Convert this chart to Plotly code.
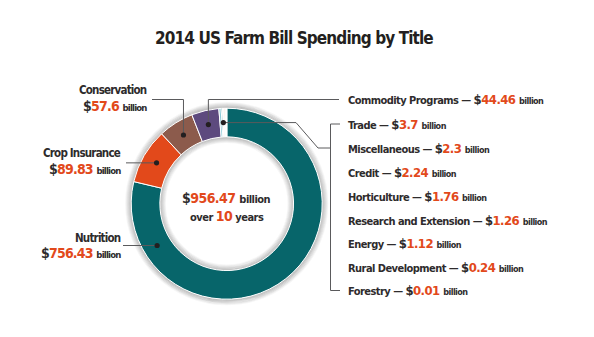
import math
import plotly.graph_objects as go

# ---------------- data ----------------
titles = ["Nutrition", "Crop Insurance", "Conservation", "Commodity Programs",
          "Trade", "Miscellaneous", "Credit", "Horticulture",
          "Research and Extension", "Energy", "Rural Development", "Forestry"]
spending = [756.43, 89.83, 57.6, 44.46, 3.7, 2.3, 2.24, 1.76, 1.26, 1.12, 0.24, 0.01]
total_spending = 956.47
years = 10
chart_title = "2014 US Farm Bill Spending by Title"

slice_colors = ["#07656a", "#e2491b", "#8c5b4c", "#5d4a7e", "#8ccbd8", "#3a8f98",
                "#fbf7f2", "#f3c4aa", "#f7e6da", "#efe9e0", "#d9e7e4", "#ffffff"]

# ---------------- layout constants ----------------
W, H = 594, 337
CX, CY, R = 226.7, 203.7, 95.5
HOLE = 0.70
RIN = R * HOLE
FONT = "DejaVu Sans Condensed, sans-serif"
DARK = "#2e2b2c"
ORANGE = "#e2491b"
LINE = "#5a5a5c"

fig = go.Figure()

fig.add_trace(go.Scatter(x=[0, W], y=[0, H], mode="markers",
                         marker=dict(opacity=0), hoverinfo="skip", showlegend=False))

fig.add_trace(go.Pie(
    labels=titles, values=spending, sort=False, direction="clockwise", rotation=0,
    hole=HOLE, textinfo="none", hoverinfo="label+value",
    marker=dict(colors=slice_colors, line=dict(color="white", width=1)),
    domain=dict(x=[(CX - R) / W, (CX + R) / W], y=[1 - (CY + R) / H, 1 - (CY - R) / H]),
    showlegend=False,
))

shapes = []
for k in range(6):
    a = 0.22 * (1 - k / 6)
    r = R + 0.5 + k
    shapes.append(dict(type="circle", xref="x", yref="y", layer="below",
                       x0=CX - r, x1=CX + r, y0=CY - r, y1=CY + r,
                       line=dict(color=f"rgba(0,0,0,{a:.3f})", width=1.2)))
    r = RIN - 0.5 - k
    shapes.append(dict(type="circle", xref="x", yref="y", layer="below",
                       x0=CX - r, x1=CX + r, y0=CY - r, y1=CY + r,
                       line=dict(color=f"rgba(0,0,0,{a:.3f})", width=1.2)))

tot = sum(spending)
starts, cum = [], 0.0
for v in spending:
    starts.append(cum / tot * 360)
    cum += v
mids = [s + v / tot * 180 for s, v in zip(starts, spending)]


def pt(angle, r):
    a = math.radians(angle)
    return CX + r * math.sin(a), CY - r * math.cos(a)


RM = (R + RIN) / 2
dot_nut = pt(239, RM)
dot_crop = pt(mids[1], RM)
dot_cons = pt(mids[2], RM)
dot_comm = pt(mids[3], RM)
dot_small = pt((starts[4] + 360) / 2, RM)


def path(pts):
    return "M " + " L ".join(f"{x:.2f},{y:.2f}" for x, y in pts)


def line(pts):
    shapes.append(dict(type="path", xref="x", yref="y", path=path(pts),
                       line=dict(color=LINE, width=1)))


line([(152, 99.5), (dot_cons[0], 99.5), dot_cons])
line([(126, dot_crop[1]), dot_crop])
line([(123, dot_nut[1]), dot_nut])
line([dot_comm, (dot_comm[0], 99.5), (339, 99.5)])
line([dot_small, (296, dot_small[1]), (318, 148), (330.5, 148)])
line([(340, 124), (330.5, 124), (330.5, 290.5), (340, 290.5)])

for d in [dot_cons, dot_crop, dot_nut, dot_comm, dot_small]:
    shapes.append(dict(type="circle", xref="x", yref="y",
                       x0=d[0] - 2.6, x1=d[0] + 2.6, y0=d[1] - 2.6, y1=d[1] + 2.6,
                       fillcolor="#231f20", line=dict(width=0)))

ann = []


def fmt(v):
    return f"{v:g}"


def money(v, num_size, bil_size):
    return (f"<span style='font-size:{num_size}px'>$</span>"
            f"<span style='font-size:{num_size}px;fill:{ORANGE}'>{fmt(v)} </span>"
            f"<span style='font-size:{bil_size}px'>billion</span>")


def text(x, y, s, size, anchor="left", ls=-0.6, color=DARK):
    ann.append(dict(x=x, y=y, xref="x", yref="y",
                    text=f"<b><span style='letter-spacing:{ls}px'>{s}</span></b>",
                    showarrow=False, xanchor=anchor, yanchor="middle",
                    font=dict(family=FONT, size=size, color=color)))


text(294, 37.5, chart_title, 17, "center", ls=-0.9, color="#231f20")

left_pos = {0: (123, 237.7, 253.3), 1: (123, 152.7, 169.3), 2: (149, 90, 106)}
for i, (xr, y1, y2) in left_pos.items():
    text(xr, y1, titles[i], 11.5, "right", ls=-0.8)
    text(xr, y2, money(spending[i], 14, 9.5), 11.5, "right", ls=-0.8)

right_y = [99, 124, 148, 172.3, 196, 220, 243, 267.3, 290.5]
for i, y in zip(range(3, 12), right_y):
    text(345.5, y, f"{titles[i]} — " + money(spending[i], 13, 9), 11, ls=-0.55)

text(226.5, 197.5, money(total_spending, 14, 11), 11, "center", ls=-0.55)
text(226.5, 216, f"<span style='font-size:11px'>over </span>"
     f"<span style='font-size:14px;fill:{ORANGE}'>{years}</span>"
     f"<span style='font-size:11px'> years</span>", 11, "center", ls=-0.5)

fig.update_layout(
    width=W, height=H, margin=dict(l=0, r=0, t=0, b=0),
    paper_bgcolor="white", plot_bgcolor="rgba(0,0,0,0)",
    xaxis=dict(range=[0, W], visible=False, fixedrange=True),
    yaxis=dict(range=[H, 0], visible=False, fixedrange=True),
    shapes=shapes, annotations=ann, showlegend=False,
)

fig.write_html("out.html")
